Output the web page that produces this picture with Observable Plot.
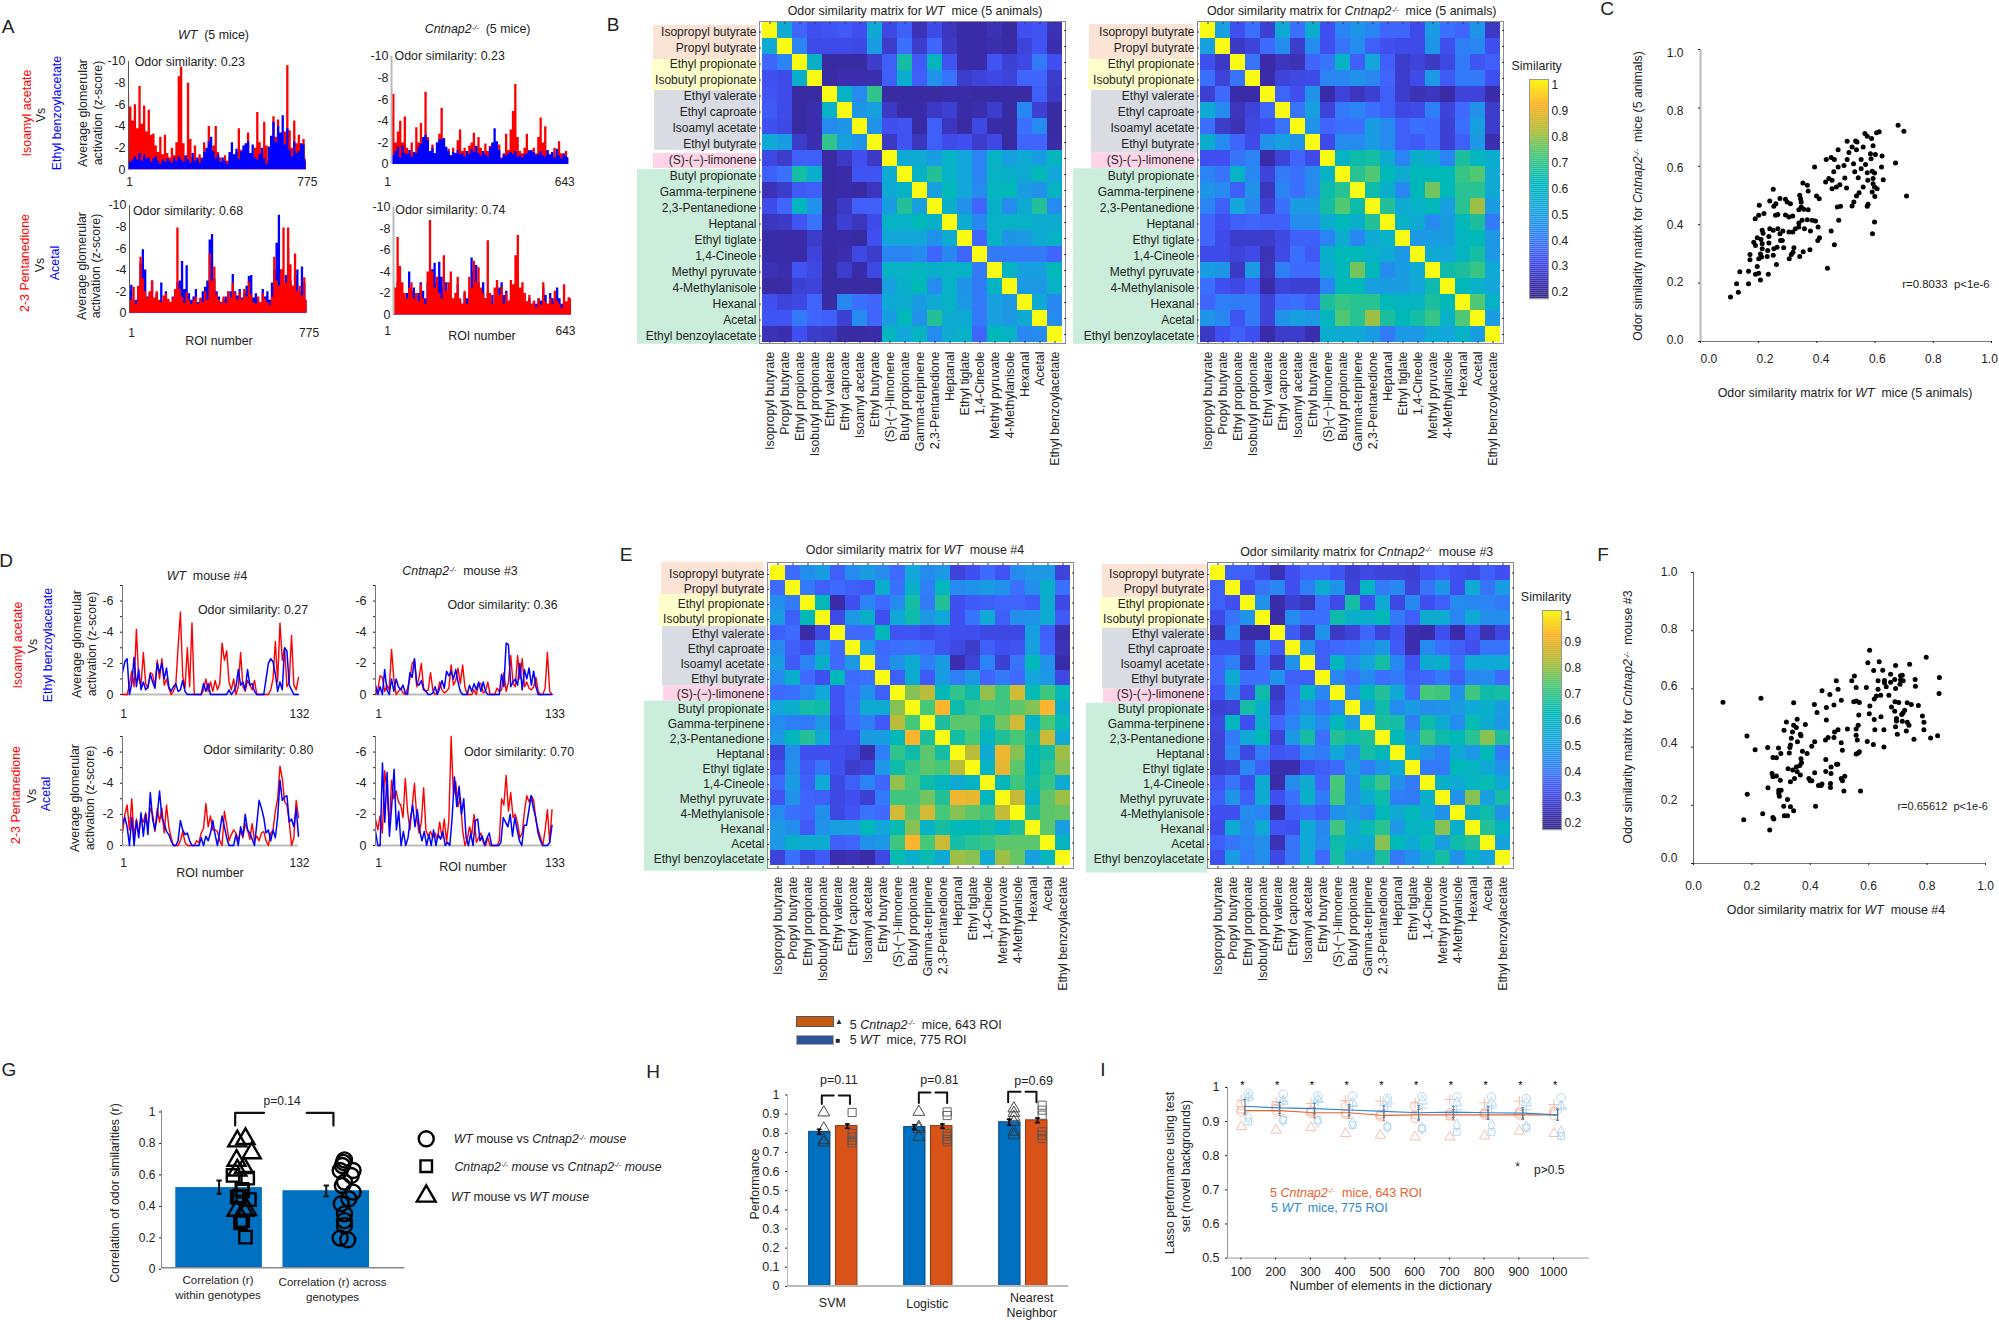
<!DOCTYPE html>
<html><head><meta charset="utf-8">
<script src="https://cdn.jsdelivr.net/npm/d3@7"></script>
<script src="https://cdn.jsdelivr.net/npm/@observablehq/plot@0.6"></script>
<style>
html,body{margin:0;padding:0;background:#fff}
#fig{position:relative;width:1999px;height:1320px;overflow:hidden;font-family:"Liberation Sans",Arial,sans-serif;color:#222}
#fig svg{position:absolute;overflow:visible;background:transparent}
.t{position:absolute;white-space:nowrap;line-height:1.2}
.t sup{font-size:.62em;line-height:0;vertical-align:baseline;position:relative;top:-.45em}
</style></head><body><div id="fig"></div>
<script>
// ---------- data ----------
const odors=["Isopropyl butyrate","Propyl butyrate","Ethyl propionate","Isobutyl propionate","Ethyl valerate","Ethyl caproate","Isoamyl acetate","Ethyl butyrate","(S)-(−)-limonene","Butyl propionate","Gamma-terpinene","2,3-Pentanedione","Heptanal","Ethyl tiglate","1,4-Cineole","Methyl pyruvate","4-Methylanisole","Hexanal","Acetal","Ethyl benzoylacetate"];

// Panel A: average glomerular activation magnitude (z-score), sampled along ROI number
const aWtIsoamyl=[7.2,5.8,4.5,6.0,3.8,7.7,4.2,5.9,3.5,5.5,3.2,3.3,2.2,1.6,3.0,1.4,3.2,1.5,1.1,2.0,1.3,2.5,8.6,9.5,2.4,1.2,8.0,2.8,1.1,2.2,0.9,1.4,1.1,2.5,1.5,4.0,1.8,2.2,4.0,1.6,1.1,0.6,1.3,0.8,1.2,0.4,1.0,1.6,3.8,1.8,1.0,2.3,3.4,1.4,1.0,2.0,5.3,2.5,1.6,4.4,2.2,0.8,2.4,4.9,3.0,4.6,2.8,2.2,3.5,9.6,3.6,2.0,4.5,2.4,3.2,2.3,2.8,1.0];
const aWtBenzoyl=[0.8,0.7,0.9,1.2,0.9,1.5,0.8,1.4,1.0,1.1,0.7,1.0,1.2,0.8,0.5,0.9,0.7,1.0,0.8,0.6,1.1,0.8,1.2,0.9,0.7,1.3,0.9,0.6,1.5,0.8,1.1,0.6,1.0,1.6,2.0,2.6,3.0,1.7,1.0,1.4,0.7,1.1,0.8,0.5,1.6,2.5,1.4,1.9,1.0,1.7,2.2,2.4,2.6,1.5,2.3,1.1,0.9,1.4,2.0,1.0,0.5,2.1,3.1,4.4,2.5,4.0,3.4,5.0,2.3,3.8,1.8,1.2,2.6,1.5,1.7,2.4,2.3,0.8];
const aKoIsoamyl=[4.5,6.5,2.0,3.0,4.0,2.0,4.4,1.5,1.0,2.0,1.0,3.4,2.0,3.8,2.0,6.7,2.5,1.2,1.8,1.0,2.0,2.8,5.2,2.0,1.2,1.4,0.8,1.5,1.0,2.2,3.2,1.2,1.5,0.8,1.7,2.0,2.9,1.5,2.5,1.5,1.0,1.9,1.2,1.7,0.5,1.0,1.3,1.8,0.6,1.0,2.8,1.3,3.2,4.9,7.4,2.5,1.2,1.0,1.5,2.8,1.3,0.8,1.5,1.0,2.5,4.3,2.0,3.5,1.2,0.7,0.9,1.5,0.6,2.1,1.0,0.8,1.2,0.6];
const aKoBenzoyl=[1.0,0.8,1.2,1.6,0.6,1.7,1.0,0.9,1.3,0.7,1.1,1.0,1.6,1.9,2.5,2.7,2.2,1.2,1.5,1.0,2.0,2.3,2.3,2.4,1.6,1.2,0.8,1.1,1.0,1.3,0.9,1.0,0.7,1.2,0.9,1.4,1.1,1.7,1.0,0.8,1.2,0.9,0.7,1.5,2.0,3.3,2.1,1.3,0.5,0.9,0.8,1.0,1.1,0.9,1.2,0.7,0.8,0.6,0.9,1.0,1.2,1.3,1.1,0.8,0.9,1.2,0.8,0.7,1.3,0.9,1.1,0.6,1.4,0.8,0.5,1.0,0.7,0.6];
const aWtPent=[1.5,1.2,2.4,0.8,2.5,5.2,3.2,2.0,1.4,2.0,3.0,1.4,2.0,1.2,1.0,1.6,1.8,1.3,1.0,1.4,2.2,7.9,2.2,1.5,0.9,1.9,1.2,0.8,1.2,1.5,0.8,1.4,1.0,2.0,1.2,5.5,3.0,4.3,1.7,1.2,0.9,1.5,0.9,2.0,1.4,2.8,1.8,1.2,1.9,1.2,2.2,1.5,2.9,1.7,1.0,0.8,1.5,1.0,1.8,1.3,1.0,0.7,1.5,5.2,3.0,2.5,4.0,7.9,2.8,7.9,4.5,2.5,5.5,2.0,2.5,1.6,3.3,1.2];
const aWtAcetal=[2.0,2.6,1.0,1.2,2.2,4.6,5.9,4.0,1.5,1.8,3.0,1.2,1.8,1.1,2.8,1.0,2.0,1.2,1.0,1.5,1.1,2.8,3.0,4.8,2.2,4.4,1.8,1.2,1.5,2.2,1.0,1.3,2.0,2.4,3.0,6.8,7.3,3.2,2.0,1.5,1.0,1.3,1.5,1.2,2.0,3.6,2.0,1.6,2.2,1.4,1.9,2.5,3.4,3.5,1.4,1.8,1.2,1.0,2.2,1.5,2.0,1.2,2.8,4.0,6.5,9.1,4.0,2.5,3.5,6.0,3.0,2.5,3.5,4.0,2.0,4.3,2.8,1.2];
const aKoPent=[3.7,2.5,7.2,4.5,3.0,2.0,1.5,2.5,3.0,1.5,2.0,1.2,2.8,1.5,1.0,4.0,8.8,4.0,2.5,3.5,2.0,1.5,5.5,2.2,3.0,4.0,1.5,2.0,3.5,1.5,1.0,2.2,1.0,3.5,2.5,5.0,3.0,4.4,2.5,2.0,1.5,6.9,2.0,1.0,2.5,3.2,1.8,2.6,1.0,2.0,1.3,3.2,2.8,5.5,7.4,2.5,3.0,2.0,1.2,1.8,1.0,1.3,0.7,1.5,0.9,3.0,1.2,1.0,1.5,1.0,2.2,1.3,1.0,0.6,2.8,1.2,1.6,1.5];
const aKoAcetal=[2.5,1.5,3.0,2.8,2.0,1.5,2.0,4.0,2.2,2.5,1.0,2.0,3.0,2.2,1.5,3.0,3.6,4.2,4.8,3.0,4.9,3.5,2.5,3.0,1.5,2.0,1.2,0.5,2.8,1.2,1.0,2.0,1.5,1.8,5.3,4.0,4.6,3.0,2.2,3.0,1.5,2.0,1.2,1.8,1.0,1.5,2.5,3.0,1.8,2.2,1.2,1.5,2.0,1.5,2.2,1.3,1.5,1.0,1.2,1.5,1.0,1.2,1.0,1.5,1.3,2.5,1.8,1.0,2.0,1.5,1.2,2.5,1.5,1.0,1.2,0.8,1.0,0.7];

// Panel D: single-mouse traces
const dWtIsoamyl=[0,0,0,0.6,1.5,0.5,4.2,1.0,0.6,2.7,0.7,0.4,1.4,1.3,0.5,2.2,1.0,2.3,0.6,1.0,0.4,0,0.2,0.6,3.0,5.3,1.2,0.4,3.0,0.5,4.6,0,0,0,0,0.3,1.0,0.2,0.8,0.2,0.9,0.3,0.7,3.3,2.2,2.8,0.8,0.3,1.0,0,0.5,2.7,0.5,0.2,0.9,0.6,0.3,0.9,0,0,0,0,0,0,0.3,1.0,3.4,0.8,4.6,2.2,3.0,0.5,0.8,3.8,0.6,0.3,1.1];
const dWtBenzoyl=[1.4,2.1,2.3,0,0.7,2.4,0.5,1.6,0.3,0.8,0.3,0.5,1.3,0.8,0.4,2.0,1.4,2.0,1.0,1.7,0.5,0.2,0.5,0.7,0.2,0.3,0.9,0.2,0,0,0,0,0,0,0,0.7,0.2,0.7,0,0,0,0,0,0,0,0,0.3,0,0.2,0.5,1.6,0.6,0.8,0.3,1.6,0.6,0.7,0.2,0,0,0,0,1.0,2.0,2.3,2.1,1.3,0.2,0.8,0.3,3.0,2.8,0.6,0.3,0,0,0];
const dKoIsoamyl=[0,0.3,1.2,1.1,0.2,0.6,0.3,2.9,1.0,0,0.2,0.4,0.1,0,0.4,1.0,2.0,2.2,0.5,1.1,2.0,0.4,0.2,0.3,1.4,0.3,0,0.1,0.8,0.3,0.1,0.2,0.4,1.9,0.6,0.9,1.7,0.7,1.9,0.5,0,0,0,0.3,0,0.7,0.7,0.1,0.2,0.8,0,0,0,0.4,0.2,0.3,1.4,0.2,0.8,2.5,0.7,0.5,2.5,1.0,2.3,0.5,0.8,0.4,0.3,0.5,1.1,0.2,0,0,0.4,2.7,0.2,0];
const dKoBenzoyl=[0.6,0,0.5,0,1.6,0.3,0,1.0,0.2,1.0,0.5,0.3,0.6,0.1,0,1.4,1.1,2.3,0.7,0.6,0.9,0.3,0.2,0,0,0.1,0.5,0,0.4,0.9,0.4,1.5,1.2,1.5,1.0,1.6,0.8,0.2,0,0,0,0.6,0.2,0.7,0.3,0.8,0.2,0.8,0.2,0,0,0,0,0,0,1.3,0.5,3.3,3.2,0.5,0.8,1.0,0.6,2.0,0.3,1.6,1.0,1.7,0.6,1.5,0.5,0,0,0,0,0,0,0];
const dWtPent=[0.8,2.0,2.6,1.0,3.0,0.5,1.7,0.8,1.8,1.5,2.1,1.2,2.4,2.0,0.9,2.4,1.5,2.4,0.8,2.6,1.2,0.5,0,0,0,0.3,0.9,0.2,0,0,0,0,0.3,0.2,0.8,1.1,2.7,1.2,1.9,1.0,1.0,0.9,0.3,0,2.2,1.3,0.3,0.7,1.0,0.8,0.3,1.0,0.5,1.4,1.0,0.4,1.4,0.3,0.6,0.3,0.8,0.9,0.3,0,0.8,1.0,2.2,3.0,5.1,4.3,2.8,2.6,1.5,0,0.5,2.9,1.8];
const dWtAcetal=[1.4,1.8,1.2,0,1.8,0,1.6,0.5,2.1,0.6,2.0,0.7,3.4,1.7,1.0,1.9,3.5,1.8,1.4,0.9,0.7,0.3,0,0,0.3,1.6,1.0,0.7,0.8,0.3,0,0,0,0,0.5,0,0.6,0.3,0.8,1.6,0.7,0,0.9,1.9,1.2,0.5,0,0,0,0.7,0,1.2,0.6,2.0,1.0,0.8,0.4,0,1.4,2.9,2.4,1.8,0.8,1.0,0.3,1.0,0.5,1.8,4.2,2.9,3.1,3.2,1.5,1.7,1.2,2.4,0.6];
const dKoPent=[1.7,1.0,1.9,0.8,4.8,3.6,1.2,4.2,3.0,3.5,2.8,2.6,1.8,4.3,2.2,1.0,2.5,4.0,1.8,0.8,1.5,3.7,1.0,0.6,0.9,0.5,0.8,0.4,1.5,0.5,1.7,0.2,1.6,7.0,3.2,4.1,2.5,3.1,1.0,0,0.4,1.2,0.7,2.0,0.2,0.5,0.8,0.2,0,0.5,0,0,0,0,0.3,3.0,2.6,4.5,2.2,3.4,1.8,2.0,1.4,0.5,0.8,2.2,3.2,2.8,3.2,2.9,1.6,1.0,0.5,0,1.0,2.3,0.2,2.3];
const dKoAcetal=[0.9,0,0,5.3,1.5,4.7,0.6,2.6,4.9,1.0,2.2,0,0.9,0,0.5,1.7,2.6,1.2,2.3,1.0,0.3,0.9,0,0.7,0,1.0,0,0.7,0.4,0.9,0,0.2,0,1.8,4.4,2.5,3.8,2.0,3.0,0.5,0,0.8,0,1.6,1.7,0.3,0.6,0,0.5,0.8,0,0,0,0,0.2,1.8,1.5,1.2,2.0,0.6,1.8,1.0,0.3,0,1.3,1.3,2.2,3.2,2.4,1.8,0.8,0.3,0,0,0,0.2,1.3];

// Similarity matrices (upper triangle, percent)
const simWt5=[[100,52,34,30,31,32,30,52,28,33,22,29,23,20,20,22,19,30,31,22],[100,40,29,29,29,28,47,25,36,25,34,24,20,20,21,20,27,31,21],[100,55,19,19,19,25,33,63,32,58,31,20,20,31,26,28,38,30],[100,19,21,21,21,33,54,33,44,37,25,27,28,27,34,34,25],[100,56,42,67,19,19,19,19,20,20,19,19,19,19,33,24,19],[100,45,48,24,20,20,24,26,20,21,25,19,41,26,19],[100,44,30,31,19,33,23,19,28,20,19,36,42,19],[100,24,31,23,33,29,30,25,28,19,34,34,20],[100,52,52,47,56,50,40,56,48,52,47,58],[100,56,65,56,50,40,56,55,53,60,50],[100,48,60,50,42,58,60,47,44,57],[100,55,44,34,55,42,52,65,42],[100,53,41,56,56,56,53,53],[100,34,56,45,46,52,56],[100,38,38,38,38,34],[100,57,48,48,60],[100,46,46,56],[100,52,41],[100,42],[100]];
const simKo5=[[100,48,30,36,26,52,36,54,30,40,45,40,34,34,29,47,36,34,45,24],[100,24,27,35,42,25,42,30,37,42,33,30,29,29,45,30,39,41,30],[100,37,20,23,22,34,37,56,33,50,33,25,27,24,28,38,31,33],[100,20,27,28,29,40,41,44,41,34,25,29,46,32,38,38,30],[100,34,30,44,20,27,23,26,33,25,22,23,20,27,27,20],[100,37,48,27,38,40,36,33,28,29,39,27,35,44,25],[100,44,34,36,36,47,42,33,36,35,26,36,48,25],[100,29,42,42,47,42,33,32,35,26,33,46,21],[100,57,62,63,53,40,55,52,40,64,58,54],[100,66,71,60,53,60,60,60,68,71,52],[100,62,55,41,60,74,60,66,66,52],[100,65,52,56,60,48,66,78,47],[100,56,52,42,47,60,64,38],[100,46,47,47,58,60,46],[100,52,50,58,63,46],[100,62,64,68,52],[100,60,56,50],[100,71,56],[100,47],[100]];
const simWt4=[[100,35,43,47,33,42,47,42,35,50,42,46,27,30,35,31,42,46,46,27],[100,38,33,35,33,32,54,36,55,39,59,42,44,47,44,36,43,55,36],[100,60,20,30,40,35,42,63,38,65,30,32,33,34,34,32,53,28],[100,29,46,55,30,51,62,46,52,30,37,52,33,43,44,53,32],[100,35,35,60,31,31,29,31,30,30,28,28,28,48,33,21],[100,46,35,36,37,35,31,28,25,33,30,31,48,34,22],[100,36,44,53,39,47,21,27,40,26,37,60,44,20],[100,33,53,32,47,39,46,34,38,35,50,46,28],[100,76,81,60,67,62,77,69,84,61,69,61],[100,70,90,62,68,70,69,72,76,90,54],[100,64,72,72,62,74,84,56,70,61],[100,63,70,58,65,70,63,83,52],[100,81,52,88,76,60,63,78],[100,57,87,72,60,66,76],[100,59,69,62,68,52],[100,82,56,72,78],[100,64,72,73],[100,72,48],[100,58],[100]];
const simKo3=[[100,33,33,29,22,30,34,34,31,26,28,27,27,26,31,33,30,29,33,30],[100,30,37,41,30,39,53,44,27,58,38,41,27,37,45,30,52,37,47],[100,44,20,26,23,36,29,63,30,52,28,41,30,33,42,41,40,38],[100,20,42,36,36,62,55,55,60,38,33,53,53,40,52,43,43],[100,32,24,44,24,27,34,27,31,21,20,30,20,31,22,28],[100,44,33,35,36,40,46,32,21,42,36,33,30,37,37],[100,33,58,42,50,63,41,31,53,55,36,52,51,52],[100,41,36,42,36,38,33,34,38,33,41,42,35],[100,42,60,65,51,35,70,69,44,69,62,63],[100,46,62,42,47,43,44,47,51,55,47],[100,64,63,39,62,53,42,61,53,46],[100,60,46,68,62,60,66,76,64],[100,52,44,39,52,46,60,38],[100,38,38,60,57,52,44],[100,55,52,58,61,52],[100,44,76,48,63],[100,54,62,44],[100,65,58],[100,49],[100]];

// Panel C scatter
const cWt=[.103,.13,.124,.135,.165,.165,.189,.195,.2,.206,.233,.17,.17,.2,.21,.206,.229,.212,.231,.25,.252,.263,.261,.286,.305,.312,.318,.321,.341,.353,.376,.183,.189,.195,.208,.212,.235,.235,.275,.281,.212,.215,.238,.25,.266,.273,.283,.304,.317,.326,.338,.357,.378,.404,.403,.409,.449,.46,.475,.436,.188,.2,.218,.202,.238,.252,.259,.25,.273,.292,.298,.309,.258,.266,.292,.304,.317,.338,.346,.355,.37,.346,.341,.344,.352,.367,.37,.399,.408,.392,.338,.349,.367,.384,.395,.43,.441,.452,.432,.449,.46,.473,.458,.473,.493,.504,.452,.467,.479,.496,.502,.47,.481,.504,.51,.521,.533,.538,.536,.526,.53,.542,.552,.552,.567,.559,.545,.536,.527,.521,.573,.576,.565,.573,.588,.605,.614,.559,.593,.584,.601,.624,.586,.573,.59,.598,.622,.575,.593,.593,.628,.598,.607,.59,.599,.598,.591,.67,.679,.699,.708];
const cKo=[.152,.169,.198,.239,.198,.241,.23,.257,.234,.211,.23,.298,.28,.283,.289,.3,.291,.318,.312,.295,.318,.323,.264,.321,.283,.298,.306,.321,.291,.307,.314,.34,.329,.355,.349,.335,.36,.337,.346,.346,.381,.371,.386,.381,.386,.369,.378,.375,.375,.386,.392,.386,.378,.392,.346,.355,.378,.331,.415,.251,.42,.432,.438,.467,.481,.463,.472,.521,.49,.487,.478,.472,.432,.435,.433,.426,.43,.451,.461,.453,.451,.478,.501,.489,.543,.535,.515,.498,.489,.598,.406,.415,.417,.415,.413,.546,.558,.552,.623,.63,.623,.657,.581,.598,.603,.623,.523,.529,.537,.56,.526,.461,.463,.686,.647,.666,.687,.683,.657,.609,.581,.561,.623,.592,.606,.529,.509,.498,.478,.464,.463,.47,.712,.703,.695,.715,.718,.666,.67,.643,.64,.635,.626,.578,.583,.577,.598,.552,.558,.54,.554,.529,.523,.512,.497,.409,.369,.611,.741,.72,.498];

// Panel F scatter
const fWt=[.101,.231,.343,.183,.211,.254,.184,.172,.237,.261,.272,.275,.255,.269,.272,.284,.297,.272,.284,.291,.299,.318,.31,.328,.332,.33,.335,.339,.343,.352,.355,.356,.366,.368,.383,.373,.389,.324,.34,.352,.364,.368,.37,.355,.366,.346,.332,.292,.3,.292,.294,.322,.332,.309,.311,.322,.343,.395,.4,.405,.415,.418,.428,.437,.44,.453,.453,.471,.471,.469,.469,.49,.494,.506,.51,.515,.518,.572,.405,.415,.414,.423,.44,.455,.455,.452,.461,.481,.481,.467,.489,.495,.506,.483,.495,.506,.51,.527,.542,.551,.549,.557,.558,.568,.566,.564,.557,.557,.561,.557,.564,.568,.592,.597,.603,.604,.602,.595,.616,.617,.619,.619,.621,.626,.632,.632,.636,.641,.642,.652,.652,.648,.654,.654,.66,.669,.675,.675,.678,.692,.689,.689,.692,.695,.692,.695,.698,.69,.703,.709,.709,.715,.707,.718,.713,.718,.723,.715,.729,.732,.738,.732,.74,.746,.755,.759,.76,.77,.784,.789,.789,.797,.812,.836,.841,.842];
const fKo=[.554,.568,.552,.438,.391,.399,.238,.15,.171,.115,.158,.153,.26,.309,.298,.301,.286,.364,.363,.397,.378,.486,.458,.38,.407,.399,.43,.452,.475,.467,.496,.418,.444,.439,.478,.386,.378,.326,.321,.332,.337,.36,.346,.315,.304,.292,.281,.252,.252,.241,.231,.22,.195,.197,.164,.164,.181,.292,.284,.284,.312,.197,.268,.268,.273,.357,.316,.332,.309,.275,.261,.341,.341,.292,.284,.249,.3,.249,.403,.418,.546,.519,.594,.493,.536,.424,.433,.433,.545,.581,.628,.599,.561,.452,.46,.415,.389,.462,.628,.644,.556,.605,.558,.553,.51,.475,.462,.441,.424,.376,.38,.384,.605,.69,.733,.541,.515,.419,.409,.663,.565,.495,.46,.576,.628,.599,.693,.578,.504,.46,.4,.664,.629,.621,.607,.578,.65,.623,.538,.68,.632,.523,.601,.498,.47,.49,.444,.556,.553,.631,.645,.647,.616,.628,.512,.518,.527,.489,.455,.485,.475,.552,.685,.546,.427,.632,.609,.543,.507,.485,.46,.709,.431,.439,.584,.639];

// Panel G
const gBars=[0.51,0.49], gErrLo=[0.47,0.455], gErrHi=[0.555,0.523];
const gTriX=[1.17,1.246,1.304,1.163,1.233,1.17,1.163,1.233,1.26], gTriY=[.805,.82,.73,.682,.636,.62,.364,.364,.368];
const gSqX=[1.13,1.267,1.213,1.17,1.283,1.22,1.2,1.246,1.22,1.19], gSqY=[.587,.57,.498,.449,.434,.30,.286,.195,.488,.456];
const gCircX=[2.17,2.15,2.13,2.25,2.233,2.15,2.25,2.21,2.14,2.17,2.17,2.17,2.13,2.2,2.16,2.17], gCircY=[.686,.65,.619,.619,.587,.523,.481,.439,.407,.343,.30,.269,.189,.178,.67,.545];

// Panel H
const hWt=[.805,.83,.855], hKo=[.835,.835,.865], hWtErr=[.013,.012,.016], hKoErr=[.011,.011,.012];
const hP=["p=0.11","p=0.81","p=0.69"];
const hTri=[[.906,.822,.761,.749],[.909,.83,.82,.778],[.927,.904,.883,.857,.805,.787]];
const hSq=[[.906,.796,.778,.761,.747],[.909,.89,.796,.782,.765,.753],[.944,.918,.892,.805,.787,.77]];

// Panel I
const iN=[100,200,300,400,500,600,700,800,900,1000];
const iKoMean=[.932,.932,.926,.926,.918,.92,.92,.92,.92,.92], iWtMean=[.945,.94,.938,.934,.93,.926,.928,.926,.925,.92];
const iKoErr=[.012,.014,.015,.016,.016,.016,.015,.014,.014,.016], iWtErr=[.02,.016,.015,.016,.017,.021,.016,.018,.016,.016];
const iKoPlus=[.963,.958,.953,.962,.96,.955,.965,.955,.96,.95], iKoC1=[.948,.945,.93,.945,.92,.945,.925,.925,.925,.93], iKoC2=[.93,.935,.925,.922,.915,.91,.92,.92,.92,.92], iKoSq=[.935,.94,.93,.925,.92,.92,.915,.925,.93,.93], iKoTri=[.885,.875,.882,.865,.86,.855,.855,.858,.872,.865];
const iWtC=[.982,.98,.975,.975,.968,.973,.972,.972,.967,.97], iWtTri=[.972,.96,.965,.955,.96,.96,.955,.955,.955,.945], iWtPlus=[.97,.96,.96,.945,.945,.94,.935,.94,.935,.94], iWtD=[.912,.905,.9,.895,.885,.88,.89,.89,.885,.87], iWtSq=[.9,.905,.905,.89,.885,.88,.87,.87,.882,.858];

// ---------- helpers ----------
const fig=document.getElementById("fig");
const FONT='"Liberation Sans",Arial,sans-serif';
const KO='<i>Cntnap2<sup>-/-</sup></i>', WT='<i>WT</i>';
function txt(x,y,html,o={}){
  const d=document.createElement("div");d.className="t";d.innerHTML=html;
  d.style.left=x+"px";d.style.top=y+"px";
  d.style.fontSize=(o.size||12.4)+"px";if(o.color)d.style.color=o.color;
  d.style.transform=`translate(-50%,-50%)${o.rot?` rotate(${o.rot}deg)`:""}`;
  fig.appendChild(d);
}
function place(plotLeft,plotTop,ml,mt,opts){
  const el=Plot.plot({...opts,marginLeft:ml,marginTop:mt,style:{fontFamily:FONT,fontSize:"12px",color:"#222",background:"transparent",overflow:"visible"}});
  el.style.left=(plotLeft-ml)+"px";el.style.top=(plotTop-mt)+"px";fig.appendChild(el);return el;
}
const series=(vals,N)=>vals.map((v,i)=>({roi:1+i*(N-1)/(vals.length-1),v}));

function filledPanel(p){
  const mb=30,ml=34,mt=6,mr=12;
  const w=p.x1-p.x0,h=p.y0-p.top;
  place(p.x0,p.top,ml,mt,{width:w+ml+mr,height:h+mt+mb,marginBottom:mb,marginRight:mr,
    x:{domain:[1,p.N]},y:{domain:[0,10]},
    marks:[
      Plot.area(series(p.back,p.N),{x1:"roi",y1:0,y2:"v",fill:p.backColor,curve:"step"}),
      Plot.area(series(p.front,p.N),{x1:"roi",y1:0,y2:"v",fill:p.frontColor,curve:"step"}),
      Plot.ruleX([1],{stroke:p.axisColor,strokeWidth:p.axisW}),
      Plot.axisY({ticks:[0,2,4,6,8,10],tickFormat:d=>d?`-${d}`:"0",tickSize:0,tickPadding:3,label:null,fontSize:12.5}),
      Plot.axisX({ticks:[1,p.N],tickFormat:d=>String(d),tickSize:0,tickPadding:p.xPad,dx:p.xDx,label:null,fontSize:12})
    ]});
}
function linePanel(p){
  const mb=30,ml=30,mt=4,mr=12;
  const w=p.x1-p.x0,h=p.y0-p.top;
  place(p.x0,p.top,ml,mt,{width:w+ml+mr,height:h+mt+mb,marginBottom:mb,marginRight:mr,
    x:{domain:[1,p.N]},y:{domain:[0,7]},
    marks:[
      Plot.ruleY([0],{stroke:"#bbb",strokeWidth:2}),
      Plot.lineY(series(p.red,p.N),{x:"roi",y:"v",stroke:"#f00",strokeWidth:1.4}),
      Plot.lineY(series(p.blue,p.N),{x:"roi",y:"v",stroke:"#00f",strokeWidth:1.5}),
      Plot.ruleX([1],{stroke:"#777",strokeWidth:1}),
      Plot.axisY({ticks:[0,1,2,3,4,5,6,7],tickFormat:d=>d===0?"0":d%2?"":`-${d}`,tickSize:2,tickPadding:7,label:null,fontSize:12.5}),
      Plot.axisX({ticks:[1,p.N],tickFormat:d=>String(d),tickSize:0,tickPadding:p.xPad,dx:p.xDx,label:null,fontSize:12})
    ]});
}

const heatDomain=[.15,.2,.3,.35,.4,.5,.6,.7,.8,.9,1];
const heatRange=["#352a87","#3a2ba8","#3f4ff0","#3f6aff","#2a84f3","#12a6da","#00b8b8","#45c878","#b4bd3a","#fdb52f","#f9fb15"];
const colorOpts={type:"linear",domain:heatDomain,range:heatRange,interpolate:"rgb",clamp:true};
function matrixCells(rows){
  const out=[];
  rows.forEach((r,i)=>r.forEach((v,k)=>{
    const j=i+k;
    out.push({a:odors[j],b:odors[i],v:v/100});
    if(k) out.push({a:odors[i],b:odors[j],v:v/100});
  }));
  return out;
}
function heatPanel(m){
  const ml=135,mt=3,mr=6,mb=122;
  const w=306,h=m.h,rh=h/20;
  const bandColors=["#fbe3d6","#ffffcc","#d9dce2","#ffd4e8","#caeedb"];
  const bands=()=>{
    const g=d3.create("svg:g");
    m.bands.forEach((b,i)=>g.append("rect")
      .attr("x",ml-b[2]).attr("width",b[2]-b[3])
      .attr("y",mt+b[0]*rh).attr("height",(b[1]-b[0])*rh).attr("fill",bandColors[i]));
    return g.node();
  };
  place(m.x,m.y,ml,mt,{width:w+ml+mr,height:h+mt+mb,marginBottom:mb,marginRight:mr,
    x:{type:"band",domain:odors,padding:0},y:{type:"band",domain:odors,padding:0},
    color:colorOpts,
    marks:[bands,
      Plot.cell(matrixCells(m.rows),{x:"a",y:"b",fill:"v",inset:0}),
      Plot.frame({stroke:"#8a8a9a",strokeWidth:1}),
      Plot.axisY({anchor:"left",tickSize:-2,tickPadding:5,dy:1.5,label:null,fontSize:12,stroke:"#333"}),
      Plot.axisY({anchor:"right",tickSize:-2,tickFormat:()=>"",label:null,stroke:"#333"}),
      Plot.axisX({anchor:"top",tickSize:-2,tickFormat:()=>"",label:null,stroke:"#333"}),
      Plot.axisX({anchor:"bottom",tickRotate:-90,tickSize:-2,tickPadding:10,label:null,fontSize:12.4,stroke:"#333"})
    ]});
}
function colorbar(x,y,h){
  const w=19;
  const steps=d3.range(0,110).map(i=>({v0:.152+i*(1-.152)/110,v1:.152+(i+1)*(1-.152)/110}));
  place(x,y,4,2,{width:w+4+34,height:h+4,marginBottom:2,marginRight:34,
    x:{axis:null,domain:[0,1]},y:{domain:[.152,1]},color:colorOpts,
    marks:[
      Plot.rect(steps,{x1:0,x2:1,y1:"v0",y2:"v1",fill:"v0"}),
      Plot.frame({stroke:"#999"}),
      Plot.axisY({anchor:"right",ticks:[.2,.3,.4,.5,.6,.7,.8,.9,1],tickFormat:d=>d===1?"1":d.toFixed(1),tickSize:0,tickPadding:3,dy:6,label:null,fontSize:12})
    ]});
}
function scatter(s){
  const ml=40,mt=6,mr=12,mb=34;
  const ticks=[0,.2,.4,.6,.8,1];
  place(s.x0,s.y1,ml,mt,{width:s.w+ml+mr,height:s.h+mt+mb,marginBottom:mb,marginRight:mr,
    x:{domain:[0,1],axis:null},y:{domain:[0,1],axis:null},
    marks:[
      Plot.ruleX([0],{stroke:s.yAxis,strokeWidth:s.yW}),
      Plot.ruleY([0],{stroke:"#777",strokeWidth:1}),
      Plot.dot(s.xs.map((x,i)=>({x,y:s.ys[i]})),{x:"x",y:"y",r:2.5,fill:"#000"}),
      Plot.axisX({ticks,tickSize:2,tickFormat:()=>"",label:null}),
      Plot.axisY({ticks,tickSize:2,tickFormat:()=>"",label:null}),
      // tick labels sit slightly off their ticks in the reference
      Plot.text(ticks,{x:d=>d+s.xShift(d)/s.w,y:0,dy:s.xPad,text:d=>d.toFixed(1),fontSize:12,fill:"#222"}),
      Plot.text(ticks,{x:0,y:d=>d-s.yShift(d)/s.h,dx:-s.yPad,text:d=>d.toFixed(1),fontSize:12,fill:"#222",textAnchor:"end"})
    ]});
}
function errBars(rows,capW,opts){
  return [
    Plot.ruleX(rows,{x:"x",y1:"lo",y2:"hi",...opts}),
    Plot.link(rows,{x1:d=>d.x-capW,x2:d=>d.x+capW,y1:"lo",y2:"lo",...opts}),
    Plot.link(rows,{x1:d=>d.x-capW,x2:d=>d.x+capW,y1:"hi",y2:"hi",...opts})
  ];
}
const pts=(xs,ys)=>xs.map((x,i)=>({x,y:ys[i]}));

// ---------- panel letters ----------
[["A",8,27],["B",613,25],["C",1607,9],["D",6,561],["E",626,555],["F",1603,555],["G",9,1070],["H",653,1072],["I",1103,1070]]
  .forEach(([l,x,y])=>txt(x,y,l,{size:19}));

// ---------- panel A ----------
const R="#f00",B="#00f";
filledPanel({x0:128.2,x1:306,top:61,y0:169.3,N:775,back:aWtIsoamyl,backColor:R,front:aWtBenzoyl,frontColor:B,axisColor:"#555",axisW:1,xPad:8,xDx:1});
filledPanel({x0:391,x1:568.3,top:56,y0:164,N:643,back:aKoIsoamyl,backColor:R,front:aKoBenzoyl,frontColor:B,axisColor:"#bbb",axisW:2,xPad:13,xDx:-4});
filledPanel({x0:129.4,x1:307,top:205,y0:312.7,N:775,back:aWtAcetal,backColor:B,front:aWtPent,frontColor:R,axisColor:"#555",axisW:1,xPad:15,xDx:2});
filledPanel({x0:393,x1:571,top:207.3,y0:314.7,N:643,back:aKoAcetal,backColor:B,front:aKoPent,frontColor:R,axisColor:"#bbb",axisW:2,xPad:12,xDx:-6});
txt(213.5,35,`${WT}&nbsp; (5 mice)`);txt(477.6,29,`${KO}&nbsp; (5 mice)`);
txt(26.8,113,"Isoamyl acetate",{rot:-90,color:R});txt(41.3,115,"Vs",{rot:-90});txt(56.6,113,"Ethyl benzoylacetate",{rot:-90,color:B});
txt(83,113,"Average glomerular",{rot:-90});txt(98.4,113,"activation (z-score)",{rot:-90});
txt(24.9,263.3,"2-3 Pentanedione",{rot:-90,color:R});txt(40,265,"Vs",{rot:-90});txt(54.7,263.3,"Acetal",{rot:-90,color:B});
txt(81.5,266,"Average glomerular",{rot:-90});txt(96.4,266,"activation (z-score)",{rot:-90});
txt(189.8,61.7,"Odor similarity: 0.23");txt(449.7,55.7,"Odor similarity: 0.23");
txt(188,211.3,"Odor similarity: 0.68");txt(450.4,210,"Odor similarity: 0.74");
txt(219,341,"ROI number");txt(482,335.7,"ROI number");

// ---------- panel D ----------
linePanel({x0:121.7,x1:297.7,top:585.3,y0:694.3,N:132,red:dWtIsoamyl,blue:dWtBenzoyl,xPad:15,xDx:1});
linePanel({x0:375.4,x1:551.9,top:585.3,y0:694.3,N:133,red:dKoIsoamyl,blue:dKoBenzoyl,xPad:15,xDx:3});
linePanel({x0:121.7,x1:297.7,top:736,y0:845,N:132,red:dWtPent,blue:dWtAcetal,xPad:13,xDx:1});
linePanel({x0:375.4,x1:551.9,top:736,y0:845,N:133,red:dKoPent,blue:dKoAcetal,xPad:13,xDx:3});
txt(207,576,`${WT}&nbsp; mouse #4`);txt(460,571,`${KO}&nbsp; mouse #3`);
txt(18,645,"Isoamyl acetate",{rot:-90,color:R});txt(33.3,646,"Vs",{rot:-90});txt(47.8,645,"Ethyl benzoylacetate",{rot:-90,color:B});
txt(76.5,644.3,"Average glomerular",{rot:-90});txt(91.8,644.3,"activation (z-score)",{rot:-90});
txt(16,795,"2-3 Pentanedione",{rot:-90,color:R});txt(31.8,796,"Vs",{rot:-90});txt(46,794.3,"Acetal",{rot:-90,color:B});
txt(74.6,798.3,"Average glomerular",{rot:-90});txt(90,798.3,"activation (z-score)",{rot:-90});
txt(253,610,"Odor similarity: 0.27");txt(502.5,605,"Odor similarity: 0.36");
txt(258.3,749.7,"Odor similarity: 0.80");txt(519,752.3,"Odor similarity: 0.70");
txt(210,872.7,"ROI number");txt(473,867.3,"ROI number");

// ---------- panels B / E ----------
heatPanel({x:758.7,y:21,h:322,rows:simWt5,bands:[[.25,2.36,106,3],[2.36,4.29,107,1],[4.29,8,105,1],[8.2,9.13,106,3],[9.2,20.05,122,0]]});
heatPanel({x:1197,y:21,h:322,rows:simKo5,bands:[[.19,2.38,108,4],[2.38,4.28,109,0],[4.28,8.18,106,0],[8.2,9.15,106,1],[9.15,20.05,124,0]]});
heatPanel({x:767,y:562,h:306,rows:simWt4,bands:[[-.02,2.1,106,3],[2.1,4.18,108,1],[4.18,8.08,105,1],[8.08,9.06,104,0],[9.06,20.18,123,0]]});
heatPanel({x:1207,y:562,h:306,rows:simKo3,bands:[[.13,2.3,105,0],[2.3,4.3,107,0],[4.3,8.26,105,0],[8.26,9.2,104,0],[9.2,20.3,121,0]]});
txt(915,11,`Odor similarity matrix for ${WT}&nbsp; mice (5 animals)`);
txt(1351.7,11,`Odor similarity matrix for ${KO}&nbsp; mice (5 animals)`);
txt(915,550,`Odor similarity matrix for ${WT}&nbsp; mouse #4`);
txt(1366.7,551.7,`Odor similarity matrix for ${KO}&nbsp; mouse #3`);
colorbar(1528.7,79,219.3);colorbar(1541.7,610,219.3);
txt(1536.7,65.7,"Similarity");txt(1546,597.3,"Similarity");

// ---------- panels C / F ----------
scatter({x0:1700,y1:49,w:291,h:292,xs:cWt,ys:cKo,yAxis:"#bbb",yW:2,xPad:18,yPad:17,xShift:d=>(25-31*d)/3,yShift:d=>-1.67+5.67*d});
txt(1637.7,196,`Odor similarity matrix for ${KO}&nbsp; mice (5 animals)`,{rot:-90});
txt(1845,392.7,`Odor similarity matrix for ${WT}&nbsp; mice (5 animals)`);
txt(1946,285,"r=0.8033&nbsp; p&lt;1e-6",{size:11.4});
scatter({x0:1693,y1:572,w:292,h:291,xs:fWt,ys:fKo,yAxis:"#666",yW:1,xPad:23,yPad:16,xShift:()=>0,yShift:d=>-5.7+5*d});
txt(1627.7,716.7,`Odor similarity matrix for ${KO}&nbsp; mouse #3`,{rot:-90});
txt(1836,910,`Odor similarity matrix for ${WT}&nbsp; mouse #4`);
txt(1942.7,807,"r=0.65612&nbsp; p&lt;1e-6",{size:11});

// ---------- panel G ----------
{
  const bars=gBars.map((v,i)=>({x1:i+.596,x2:i+1.404,v}));
  const errs=gBars.map((v,i)=>({x:i+1,lo:gErrLo[i],hi:gErrHi[i]}));
  const sym={fill:"none",stroke:"#000",strokeWidth:2.4};
  place(160.7,1110,30,22,{width:243.3+30+300,height:157.3+22+4,marginBottom:4,marginRight:300,
    x:{domain:[.4625,2.733],axis:null},y:{domain:[0,1]},
    marks:[
      Plot.rect(bars,{x1:"x1",x2:"x2",y1:0,y2:"v",fill:"#0070c0"}),
      Plot.ruleY([0],{stroke:"#888",strokeWidth:1.5}),
      Plot.ruleX([.4625],{stroke:"#888"}),
      Plot.axisY({ticks:[0,.2,.4,.6,.8,1],tickFormat:d=>d===0||d===1?String(d):d.toFixed(1),tickSize:2,tickPadding:4,dy:1.5,label:null,fontSize:12}),
      ...errBars(errs,.025,{stroke:"#111",strokeWidth:2}),
      Plot.dot(pts(gTriX,gTriY),{x:"x",y:"y",symbol:"triangle",r:6.7,...sym}),
      Plot.dot(pts(gSqX,gSqY),{x:"x",y:"y",symbol:"square",r:7,...sym}),
      Plot.dot(pts(gCircX,gCircY),{x:"x",y:"y",symbol:"circle",r:7.5,...sym}),
      Plot.line([[1.15,.905],[1.15,.985],[1.42,.985]],{stroke:"#111",strokeWidth:2.2}),
      Plot.line([[1.817,.985],[2.067,.985],[2.067,.905]],{stroke:"#111",strokeWidth:2.2}),
      Plot.dot([{x:2.933,y:.82}],{x:"x",y:"y",symbol:"circle",r:7.5,...sym}),
      Plot.dot([{x:2.933,y:.646}],{x:"x",y:"y",symbol:"square",r:6.5,...sym}),
      Plot.dot([{x:2.933,y:.455}],{x:"x",y:"y",symbol:"triangle",r:7,...sym}),
      Plot.text(["p=0.14"],{x:1.5875,y:1.06,text:d=>d,fontSize:12})
    ]});
  txt(114.7,1193,"Correlation of odor similarities (r)",{rot:-90});
  txt(218,1281,"Correlation (r)",{size:11.5});txt(218,1296,"within genotypes",{size:11.5});
  txt(332.6,1283,"Correlation (r) across",{size:11.5});txt(332.6,1298,"genotypes",{size:11.5});
  txt(540,1139,`${WT} mouse vs <i>Cntnap2<sup>-/-</sup> mouse</i>`,{size:12.3});
  txt(558,1166.7,`<i>Cntnap2<sup>-/-</sup> mouse</i> vs <i>Cntnap2<sup>-/-</sup> mouse</i>`,{size:12.3});
  txt(520,1196.7,`${WT} mouse vs <i>WT mouse</i>`,{size:12.3});
}

// ---------- panel H ----------
{
  const blue="#0070c0",orange="#d95319";
  const wtBars=hWt.map((v,i)=>({x1:i+1-.252,x2:i+1-.028,v}));
  const koBars=hKo.map((v,i)=>({x1:i+1+.03,x2:i+1+.256,v}));
  const wtErr=hWt.map((v,i)=>({x:i+1-.147,lo:v-hWtErr[i],hi:v+hWtErr[i]}));
  const koErr=hKo.map((v,i)=>({x:i+1+.15,lo:v-hKoErr[i],hi:v+hKoErr[i]}));
  const tri=hTri.flatMap((a,i)=>a.map(y=>({x:i+1-.098,y})));
  const sq=hSq.flatMap((a,i)=>a.map(y=>({x:i+1+.2,y})));
  const bh=[[1,-.119,.007,.06,.177,.95],[2,-.098,.025,.077,.2,.955],[3,-.158,-.028,.025,.14,.96]];
  const top=[.995,1.01,1.015];
  place(786.7,1094.3,30,24,{width:281.3+30+4,height:191.4+24+4,marginBottom:4,marginRight:4,
    x:{domain:[.52,3.48],axis:null},y:{domain:[0,1]},
    marks:[
      Plot.rect(wtBars,{x1:"x1",x2:"x2",y1:0,y2:"v",fill:blue,stroke:"#0b4a7a"}),
      Plot.rect(koBars,{x1:"x1",x2:"x2",y1:0,y2:"v",fill:orange,stroke:"#8a3a12"}),
      Plot.ruleY([0],{stroke:"#bbb",strokeWidth:2}),
      Plot.ruleX([.52],{stroke:"#bbb",strokeWidth:1}),
      Plot.axisY({ticks:d3.range(0,11).map(d=>d/10),tickFormat:d=>d===0||d===1?String(d):d.toFixed(1),tickSize:2,tickPadding:6,dy:.5,label:null,fontSize:12.5}),
      Plot.dot(tri,{x:"x",y:"y",symbol:"triangle",r:4.4,fill:"none",stroke:"#333",strokeWidth:.9}),
      Plot.dot(sq,{x:"x",y:"y",symbol:"square",r:4.6,fill:"none",stroke:"#555",strokeWidth:.9}),
      ...errBars(wtErr,.025,{stroke:"#000",strokeWidth:1.6}),
      ...errBars(koErr,.025,{stroke:"#000",strokeWidth:1.6}),
      ...bh.flatMap(([c,a,b,d,e,low],i)=>[
        Plot.line([[c+a,low],[c+a,top[i]],[c+b,top[i]]],{stroke:"#111",strokeWidth:2}),
        Plot.line([[c+d,top[i]],[c+e,top[i]],[c+e,low]],{stroke:"#111",strokeWidth:2})
      ]),
      Plot.text(hP,{x:[1.06,2.12,3.11],y:[1.075,1.075,1.072],text:d=>d,fontSize:12.5})
    ]});
  txt(755,1184,"Performance",{rot:-90});
  txt(832.3,1302.7,"SVM");txt(927.3,1303.7,"Logistic");txt(1031.7,1298,"Nearest");txt(1031.7,1313,"Neighbor");
  const swatch=(x,y,w,h,bg,bd)=>{const d=document.createElement("div");d.style.cssText=`position:absolute;left:${x}px;top:${y}px;width:${w}px;height:${h}px;background:${bg};border:1.5px solid ${bd};box-sizing:border-box`;fig.appendChild(d);};
  swatch(795.7,1016,38,10.5,"#c55a11","#555");swatch(796,1034.5,38,10.5,"#2f5597","#aaa");
  txt(839,1022,"▲",{size:8});txt(838,1040.5,"■",{size:8});
  txt(925.7,1024.7,`5 ${KO}&nbsp; mice, 643 ROI`,{size:12.5});
  txt(908,1039.7,`5 ${WT}&nbsp; mice, 775 ROI`,{size:12.5});
}

// ---------- panel I ----------
{
  const oL="#f3b8a2",bL="#a9d2ef",oD="#e8622c",bD="#2f88cf";
  const koAt=iN.map(n=>n-10),wtAt=iN.map(n=>n+10);
  const mk=(xs,ys,symbol,stroke,r)=>Plot.dot(pts(xs,ys),{x:"x",y:"y",symbol,r,fill:"none",stroke,strokeWidth:.9});
  const koE=iN.map((x,i)=>({x,lo:iKoMean[i]-iKoErr[i],hi:iKoMean[i]+iKoErr[i]}));
  const wtE=iN.map((x,i)=>({x,lo:iWtMean[i]-iWtErr[i],hi:iWtMean[i]+iWtErr[i]}));
  place(1227.3,1086.7,30,14,{width:361.7+30+4,height:170.6+14+26,marginBottom:26,marginRight:4,
    x:{domain:[50,1091]},y:{domain:[.5,1]},
    marks:[
      Plot.ruleX([50],{stroke:"#999"}),Plot.ruleY([.5],{stroke:"#999"}),
      mk(koAt,iKoPlus,"plus",oL,3.5),mk(koAt,iKoC1,"circle",oL,4.6),mk(koAt,iKoC2,"circle",oL,4.6),mk(koAt,iKoSq,"square",oL,3.8),mk(koAt,iKoTri,"triangle",oL,3.8),
      mk(wtAt,iWtC,"circle",bL,4.3),mk(wtAt,iWtTri,"triangle",bL,3.8),mk(wtAt,iWtPlus,"plus",bL,3.5),mk(wtAt,iWtD,"diamond",bL,3.6),mk(wtAt,iWtSq,"square",bL,3.8),
      Plot.lineY(pts(iN,iKoMean),{x:"x",y:"y",stroke:oD,strokeWidth:1.2}),
      Plot.lineY(pts(iN,iWtMean),{x:"x",y:"y",stroke:bD,strokeWidth:1.2}),
      ...errBars(koE,4,{stroke:oD,strokeWidth:1}),
      ...errBars(wtE,4,{stroke:bD,strokeWidth:1}),
      Plot.text(iN,{x:d=>d-7,y:1.006,text:()=>"*",fontSize:11,fill:"#000"}),
      Plot.axisY({ticks:[.5,.6,.7,.8,.9,1],tickFormat:d=>d===1?"1":d.toFixed(1),tickSize:2,tickPadding:6,label:null,fontSize:12.5}),
      Plot.axisX({ticks:iN,tickFormat:d=>String(d),tickSize:2,tickPadding:7,dx:-4,label:null,fontSize:12.5})
    ]});
  txt(1170,1173,"Lasso performance using test",{rot:-90});
  txt(1186,1165.7,"set (novel backgrounds)",{rot:-90});
  txt(1390.7,1286,"Number of elements in the dictionary");
  txt(1517.7,1167,"*",{size:12});txt(1549.3,1170,"p&gt;0.5",{size:12});
  txt(1346,1192.7,`5 ${KO}&nbsp; mice, 643 ROI`,{color:"#e8622c",size:12.5});
  txt(1329.3,1207.7,`5 ${WT}&nbsp; mice, 775 ROI`,{color:"#2f88cf",size:12.5});
}
</script></body></html>
